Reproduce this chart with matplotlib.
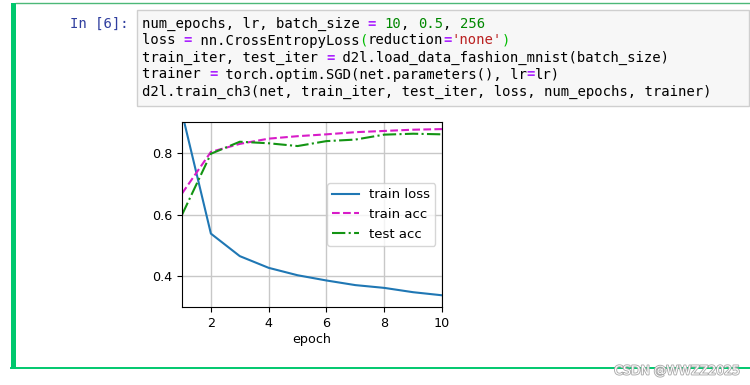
import matplotlib.pyplot as plt
import matplotlib.patheffects as pe
from matplotlib.patches import Rectangle

# training curves
epochs = [1, 2, 3, 4, 5, 6, 7, 8, 9, 10]
train_loss = [0.93, 0.538, 0.465, 0.427, 0.403, 0.386, 0.371, 0.362, 0.348, 0.338]
train_acc = [0.668, 0.803, 0.829, 0.846, 0.854, 0.860, 0.867, 0.871, 0.875, 0.877]
test_acc = [0.599, 0.797, 0.836, 0.831, 0.822, 0.838, 0.843, 0.859, 0.862, 0.860]
series_names = ['train loss', 'train acc', 'test acc']
xticks = [2, 4, 6, 8, 10]
yticks = [0.4, 0.6, 0.8]

# notebook cell code, split into (text, colour) tokens
OP = '#aa22ff'
NUM = '#008800'
STR = '#ba2121'
BR = '#00bb00'
code_lines = [
    [('num_epochs, lr, batch_size ', 'k'), ('=', OP), (' ', 'k'), ('10', NUM), (', ', 'k'),
     ('0.5', NUM), (', ', 'k'), ('256', NUM)],
    [('loss ', 'k'), ('=', OP), (' nn.CrossEntropyLoss', 'k'), ('(', BR), ('reduction', 'k'),
     ('=', OP), ("'none'", STR), (')', BR)],
    [('train_iter, test_iter ', 'k'), ('=', OP), (' d2l.load_data_fashion_mnist(batch_size)', 'k')],
    [('trainer ', 'k'), ('=', OP), (' torch.optim.SGD(net.parameters(), lr', 'k'), ('=', OP), ('lr)', 'k')],
    [('d2l.train_ch3(net, train_iter, test_iter, loss, num_epochs, trainer)', 'k')],
]

fig = plt.figure(figsize=(7.5, 3.85), dpi=100)

# background canvas in pixel units
bg = fig.add_axes([0, 0, 1, 1])
bg.set_xlim(0, 750)
bg.set_ylim(385, 0)
bg.axis('off')

# cell frame
bg.add_patch(Rectangle((11, 3), 5, 366, color='#00c86e', lw=0))
bg.plot([16, 750], [3.3, 3.3], color='#4cb878', lw=1.0)
bg.plot([11, 750], [368.3, 368.3], color='#00c86e', lw=1.4)

# code input box
bg.add_patch(Rectangle((137, 9.5), 612, 96, facecolor='#f7f7f7', edgecolor='#cfcfcf', lw=1.0))
bg.text(129, 23.5, 'In [6]:', family='DejaVu Sans Mono', fontsize=10, color='#303f9f',
        ha='right', va='center')

char_w = 8.36
for i, line in enumerate(code_lines):
    col = 0
    for txt, c in line:
        bg.text(142 + col * char_w, 23.5 + 17 * i, txt, family='DejaVu Sans Mono', fontsize=10,
                color=c, ha='left', va='center', fontweight='bold' if c == OP else 'normal')
        col += len(txt)

# watermark
bg.text(740, 371, 'CSDN @WWZZ2025', fontsize=9, color='white', ha='right', va='center',
        path_effects=[pe.withStroke(linewidth=1.3, foreground='#aaaaaa')])

# the training plot
ax = fig.add_axes([182 / 750, (385 - 307) / 385, 260 / 750, 185 / 385])
ax.plot(epochs, train_loss, '-', color='#1f77b4', lw=1.5, label=series_names[0])
ax.plot(epochs, train_acc, '--', color='#d81bc8', lw=1.5, label=series_names[1])
ax.plot(epochs, test_acc, '-.', color='#139413', lw=1.5, label=series_names[2])
ax.set_xlim(1, 10)
ax.set_ylim(0.3, 0.9)
ax.set_xticks(xticks)
ax.set_yticks(yticks)
ax.tick_params(labelsize=9.2)
ax.set_xlabel('epoch', fontsize=9.2, labelpad=2)
ax.grid(True, color='#c8c8c8', lw=1.0)
ax.legend(loc='center right', fontsize=9.5)

fig.savefig('out.png', dpi=100)
